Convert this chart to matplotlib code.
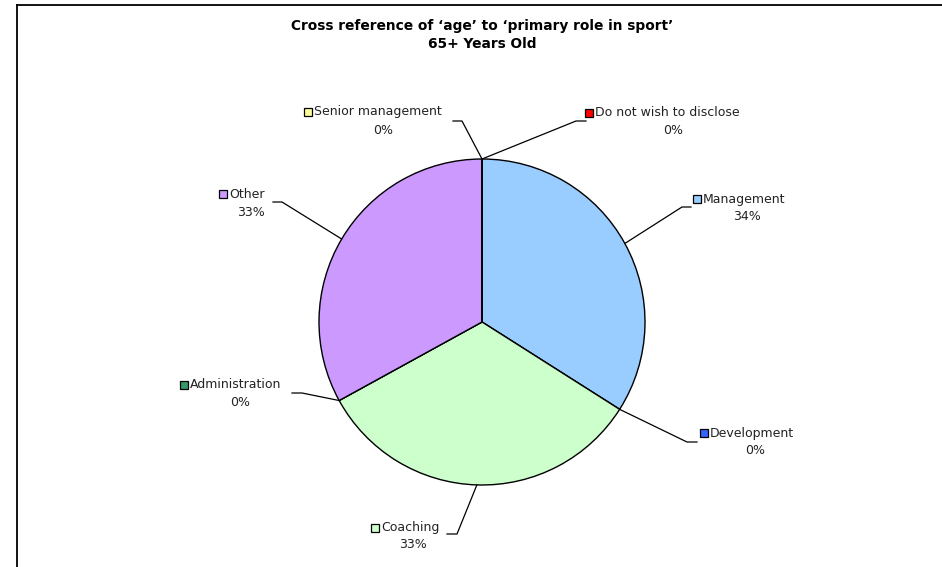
import matplotlib
matplotlib.use("Agg")
import matplotlib.pyplot as plt
import numpy as np

# data
roles = ["Management", "Development", "Coaching", "Administration",
         "Other", "Senior management", "Do not wish to disclose"]
shares = [34, 0, 33, 0, 33, 0, 0]
pct_labels = ["34%", "0%", "33%", "0%", "33%", "0%", "0%"]
colours = ["#99CCFF", "#3366FF", "#CCFFCC", "#339966",
           "#CC99FF", "#FFFF99", "#FF0000"]
title = "Cross reference of \u2018age\u2019 to \u2018primary role in sport\u2019\n65+ Years Old"

# label layout in pixels (legend square, percent text, leader elbow, leader end)
square_pos = [(697, 199), (704, 433), (375, 528), (184, 385),
              (223, 194), (308, 112), (589, 113)]
pct_pos = [(747, 216), (755, 451), (413, 545), (240, 402),
           (251, 212), (383, 130), (673, 130)]
elbow_pos = [(682, 207), (687, 442), (457, 534), (302, 393),
             (282, 202), (462, 121), (576, 121)]
end_pos = [(691, 207), (697, 442), (447, 534), (292, 393),
           (273, 202), (453, 121), (586, 121)]

W, H = 942, 567
cx, cy, R = 482, 322, 163

fig = plt.figure(figsize=(W / 100, H / 100), dpi=100)
ax = fig.add_axes([0, 0, 1, 1])

wedges, _ = ax.pie(shares, colors=colours, startangle=90, counterclock=False,
                   wedgeprops=dict(edgecolor="black", linewidth=1))
ax.set_xlim(-cx / R, (W - cx) / R)
ax.set_ylim((cy - H) / R, cy / R)
ax.axis("off")


def px(x, y):
    # pixel position -> pie data units
    return (x - cx) / R, (cy - y) / R


for i, w in enumerate(wedges):
    mid = np.deg2rad((w.theta1 + w.theta2) / 2)
    sx, sy = np.cos(mid), np.sin(mid)
    ex, ey = px(*elbow_pos[i])
    tx, ty = px(*end_pos[i])
    ax.plot([sx, ex, tx], [sy, ey, ty], color="black", lw=0.9)

    qx, qy = px(*square_pos[i])
    ax.plot([qx], [qy], marker="s", ms=5.5, mfc=colours[i], mec="black", mew=0.9)
    lx, ly = px(square_pos[i][0] + 6, square_pos[i][1])
    ax.text(lx, ly, roles[i], ha="left", va="center", fontsize=9, color="#222222")
    vx, vy = px(*pct_pos[i])
    ax.text(vx, vy, pct_labels[i], ha="center", va="center", fontsize=9, color="#222222")

tx, ty = px(482, 35)
ax.text(tx, ty, title, ha="center", va="center", fontsize=9.9, fontweight="bold",
        linespacing=1.4)

# chart frame (top and left edges only are visible)
bx0, by0 = px(17, 5)
bx1, _ = px(942, 5)
_, by1 = px(17, 567)
ax.plot([bx0, bx1], [by0, by0], color="black", lw=1.3, clip_on=False)
ax.plot([bx0, bx0], [by0, by1], color="black", lw=1.3, clip_on=False)

fig.savefig("out.png", dpi=100)
